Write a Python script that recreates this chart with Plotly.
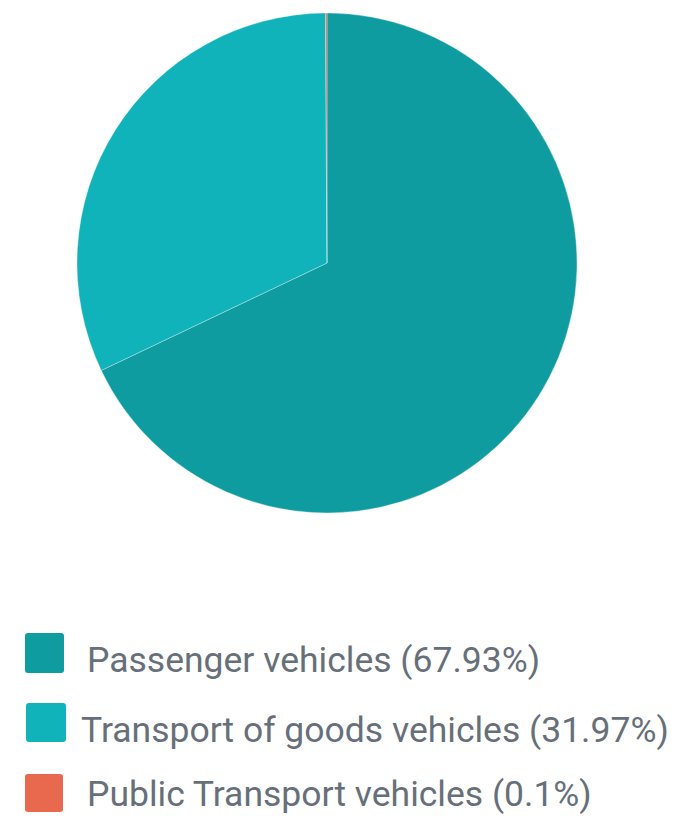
import plotly.graph_objects as go

labels = ["Passenger vehicles", "Transport of goods vehicles", "Public Transport vehicles"]
values = [67.93, 31.97, 0.1]
colors = ["#0f9ca1", "#10b3ba", "#e8694e"]

W, H = 679, 816

fig = go.Figure(go.Pie(
    labels=labels, values=values, sort=False, direction="clockwise", rotation=0,
    marker=dict(colors=colors, line=dict(color="rgba(255,255,255,0.5)", width=0.6)),
    textinfo="none", hoverinfo="label+percent", showlegend=False,
    domain=dict(x=[77 / W, 577 / W], y=[1 - 513 / H, 1 - 13 / H]),
))


def rounded(x0, y0, x1, y1, r=3):
    X = lambda v: v / W
    Y = lambda v: 1 - v / H
    return (f"M{X(x0 + r)},{Y(y0)} L{X(x1 - r)},{Y(y0)} Q{X(x1)},{Y(y0)} {X(x1)},{Y(y0 + r)} "
            f"L{X(x1)},{Y(y1 - r)} Q{X(x1)},{Y(y1)} {X(x1 - r)},{Y(y1)} "
            f"L{X(x0 + r)},{Y(y1)} Q{X(x0)},{Y(y1)} {X(x0)},{Y(y1 - r)} "
            f"L{X(x0)},{Y(y0 + r)} Q{X(x0)},{Y(y0)} {X(x0 + r)},{Y(y0)} Z")


# custom legend
sq = [(25, 633, 64, 673), (26, 703, 66, 742), (25, 774, 63, 812)]
tx = [(85, 660), (79, 730), (85, 794)]
shapes, annotations = [], []
for i, (lab, val, col) in enumerate(zip(labels, values, colors)):
    shapes.append(dict(type="path", xref="paper", yref="paper", path=rounded(*sq[i]),
                       fillcolor=col, line=dict(width=0), layer="above"))
    annotations.append(dict(text=f"{lab} ({val:g}%)", xref="paper", yref="paper",
                            x=tx[i][0] / W, y=1 - tx[i][1] / H, xanchor="left", yanchor="middle",
                            showarrow=False, font=dict(family="Roboto", size=35.5, color="#67707a")))

fig.update_layout(width=W, height=H, margin=dict(l=0, r=0, t=0, b=0),
                  paper_bgcolor="white", plot_bgcolor="white",
                  shapes=shapes, annotations=annotations)
fig.write_html("out.html", config={"displayModeBar": False},
               post_script="document.body.style.margin='0';document.body.style.overflow='hidden';")
